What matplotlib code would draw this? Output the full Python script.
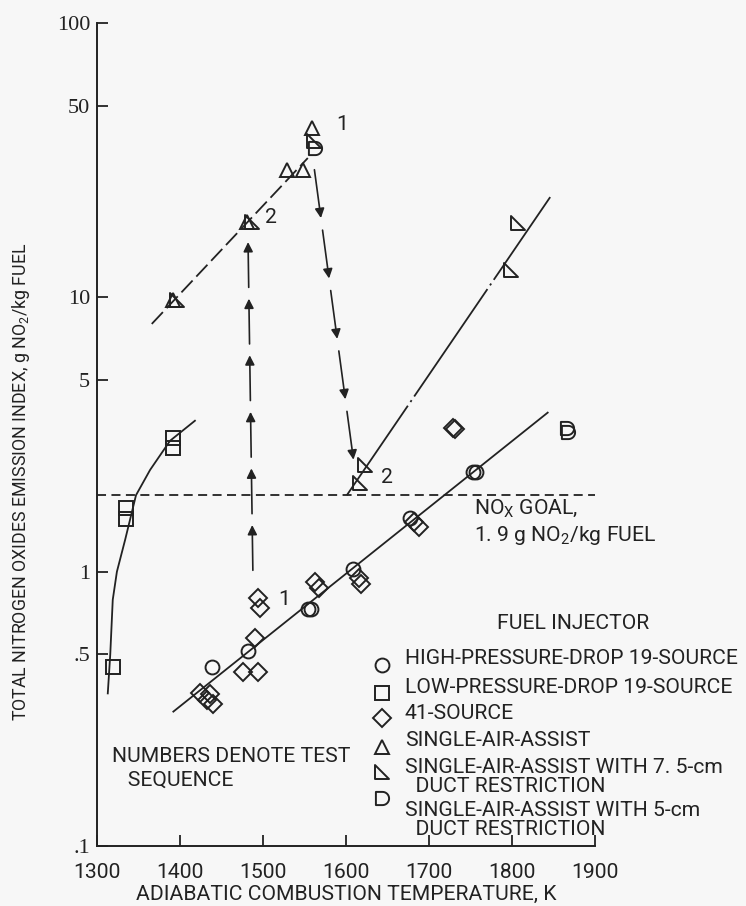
import numpy as np
import matplotlib
matplotlib.use('Agg')
import matplotlib.pyplot as plt
from matplotlib.path import Path
from matplotlib.ticker import FixedLocator, FixedFormatter

# Datos (temperatura K, indice de emision g NO2/kg)
circulo_T = [1439, 1482, 1554, 1558, 1608, 1677, 1753, 1757]
circulo_ei = [0.45, 0.515, 0.73, 0.73, 1.02, 1.57, 2.31, 2.31]

cuadrado_T = [1319, 1335, 1335, 1392, 1392]
cuadrado_ei = [0.45, 1.70, 1.56, 3.08, 2.83]

rombo_T = [1424, 1436, 1440, 1432, 1476, 1494, 1490, 1494, 1496,
           1563, 1568, 1616, 1618, 1682, 1688, 1729, 1731]
rombo_ei = [0.36, 0.357, 0.328, 0.34, 0.43, 0.43, 0.575, 0.80, 0.74,
            0.92, 0.87, 0.95, 0.90, 1.52, 1.46, 3.35, 3.30]

triangulo_T = [1391, 1481, 1529, 1548, 1559]
triangulo_ei = [9.8, 18.8, 29.1, 29.1, 41.5]

rect_T = [1397, 1487, 1561, 1617, 1623, 1799, 1807]
rect_ei = [9.8, 18.8, 37.0, 2.11, 2.45, 12.6, 18.7]

d_T = [1563, 1866, 1868]
d_ei = [35.0, 3.35, 3.22]

# Lineas de tendencia
linea_sup_T = [1366, 1554]
linea_sup_ei = [8.0, 32.2]
linea_inf_T = [1392, 1843]
linea_inf_ei = [0.309, 3.80]
linea_ducto_T = [1601, 1846]
linea_ducto_ei = [1.9, 23.2]
curva_T = [1313, 1316, 1319, 1324, 1334, 1347, 1364, 1388, 1418]
curva_ei = [0.36, 0.50, 0.79, 1.0, 1.31, 1.9, 2.35, 3.0, 3.55]

# Secuencia de ensayo (flechas)
flecha_sube_T = [1488, 1482]
flecha_sube_ei = [0.92, 15.9]
flecha_baja_T = [1560, 1609]
flecha_baja_ei = [32.3, 2.56]

meta_nox = 1.9

ticks_y = [0.1, 0.5, 1, 5, 10, 50, 100]
etiquetas_y = ['.1', '.5', '1', '5', '10', '50', '100']
ticks_x = [1300, 1400, 1500, 1600, 1700, 1800, 1900]

TINTA = '#222222'
FONDO = '#f7f7f7'
plt.rcParams['font.family'] = ['Roboto', 'DejaVu Sans']
plt.rcParams['font.stretch'] = 'condensed'
plt.rcParams['mathtext.fontset'] = 'custom'
plt.rcParams['mathtext.rm'] = 'Roboto'
plt.rcParams['mathtext.it'] = 'Roboto'
FS = 15.2


def marcador_rect():
    return Path([(-1, 1), (-1, -1), (1, -1), (-1, 1)], [Path.MOVETO, Path.LINETO, Path.LINETO, Path.CLOSEPOLY])


def marcador_d():
    ang = np.linspace(-np.pi / 2, np.pi / 2, 20)
    verts = [(-1, -1)] + [(np.cos(a), np.sin(a)) for a in ang] + [(-1, 1), (-1, -1)]
    codes = [Path.MOVETO] + [Path.LINETO] * (len(verts) - 2) + [Path.CLOSEPOLY]
    return Path(verts, codes)


estilos = [
    ('o', 10, 'HIGH-PRESSURE-DROP 19-SOURCE'),
    ('s', 9.5, 'LOW-PRESSURE-DROP 19-SOURCE'),
    ('D', 9.0, '41-SOURCE'),
    ('^', 10.5, 'SINGLE-AIR-ASSIST'),
    (marcador_rect(), 9.5, 'SINGLE-AIR-ASSIST WITH 7. 5-cm\n  DUCT RESTRICTION'),
    (marcador_d(), 9.5, 'SINGLE-AIR-ASSIST WITH 5-cm\n  DUCT RESTRICTION'),
]
series = [(circulo_T, circulo_ei), (cuadrado_T, cuadrado_ei), (rombo_T, rombo_ei),
          (triangulo_T, triangulo_ei), (rect_T, rect_ei), (d_T, d_ei)]

fig = plt.figure(figsize=(7.46, 9.06), dpi=100, facecolor=FONDO)
ax = fig.add_axes([0.130, 0.0662, 0.6676, 0.9084])
ax.set_facecolor(FONDO)
ax.set_yscale('log')
ax.set_xlim(1300, 1900)
ax.set_ylim(0.1, 100)

# lineas
ax.plot(linea_sup_T, linea_sup_ei, color=TINTA, lw=1.3, linestyle=(0, (9, 3)))
ax.plot(linea_inf_T, linea_inf_ei, color=TINTA, lw=1.3)
ax.plot(linea_ducto_T, linea_ducto_ei, color=TINTA, lw=1.3, linestyle=(12, (72, 2.5, 1.2, 2.5)))
ax.plot(curva_T, curva_ei, color=TINTA, lw=1.3)
ax.axhline(meta_nox, color=TINTA, lw=1.3, linestyle=(0, (5, 3)))

# flechas de la secuencia de ensayo
for xs, ys, n in [(flecha_sube_T, flecha_sube_ei, 6), (flecha_baja_T, flecha_baja_ei, 5)]:
    lx = np.linspace(xs[0], xs[1], n + 1)
    ly = np.logspace(np.log10(ys[0]), np.log10(ys[1]), n + 1)
    for i in range(n):
        x0 = lx[i] + 0.2 * (lx[i + 1] - lx[i])
        y0 = 10 ** (np.log10(ly[i]) + 0.2 * (np.log10(ly[i + 1]) - np.log10(ly[i])))
        ax.annotate('', xy=(lx[i + 1], ly[i + 1]), xytext=(x0, y0),
                    arrowprops=dict(arrowstyle='-|>', color=TINTA, lw=1.2,
                                    mutation_scale=14, shrinkA=0, shrinkB=0))

# puntos
for (m, ms, _), (xs, ys) in zip(estilos, series):
    ax.plot(xs, ys, linestyle='none', marker=m, ms=ms, mfc='none',
            mec=TINTA, mew=1.4)

# numeros de secuencia
ax.text(1588, 42.5, '1', fontsize=FS, color=TINTA, va='center')
ax.text(1503, 19.5, '2', fontsize=FS, color=TINTA, va='center')
ax.text(1518, 0.79, '1', fontsize=FS, color=TINTA, va='center')
ax.text(1642, 2.2, '2', fontsize=FS, color=TINTA, va='center')

ax.text(1754, 1.71, r'NO$_{\mathrm{X}}$ GOAL,', fontsize=FS, color=TINTA, va='center')
ax.text(1754, 1.36, r'1. 9 g NO$_{\mathrm{2}}$/kg FUEL', fontsize=FS, color=TINTA, va='center')

# leyenda manual
ax.text(0.956, (846 - 623) / 823, 'FUEL INJECTOR', transform=ax.transAxes,
        fontsize=FS, color=TINTA, ha='center', va='center')
filas_marca = [665, 693, 718, 747, 772, 798]
filas_texto = [658, 687, 713, 740, 777, 820]
for (m, ms, txt), ym, yt in zip(estilos, filas_marca, filas_texto):
    ax.plot([(382 - 97) / 498], [(846 - ym) / 823], transform=ax.transAxes,
            marker=m, ms=ms, mfc='none', mec=TINTA, mew=1.4, clip_on=False)
    ax.text((405 - 97) / 498, (846 - yt) / 823, txt, transform=ax.transAxes,
            fontsize=FS, color=TINTA, va='center', linespacing=1.0)

ax.text((112 - 97) / 498, (846 - 747) / 823, 'NUMBERS DENOTE TEST\n   SEQUENCE',
        transform=ax.transAxes, fontsize=FS, color=TINTA, va='top', linespacing=1.3)

# ejes
for lado in ['top', 'right']:
    ax.spines[lado].set_visible(False)
for lado in ['left', 'bottom']:
    ax.spines[lado].set_color(TINTA)
    ax.spines[lado].set_linewidth(1.4)
ax.yaxis.set_major_locator(FixedLocator(ticks_y))
ax.yaxis.set_major_formatter(FixedFormatter(etiquetas_y))
ax.yaxis.set_minor_locator(FixedLocator([]))
ax.set_xticks(ticks_x)
ax.tick_params(direction='in', length=8, width=1.3, colors=TINTA)
ax.tick_params(axis='x', labelsize=FS, pad=12)
ax.tick_params(axis='y', labelsize=16, pad=5)
for lab in ax.get_yticklabels():
    lab.set_family('Liberation Serif')

ax.set_xlabel('ADIABATIC COMBUSTION TEMPERATURE, K', fontsize=FS, color=TINTA, labelpad=2)
ax.set_ylabel(r'TOTAL NITROGEN OXIDES EMISSION INDEX, g NO$_{\mathrm{2}}$/kg FUEL',
              fontsize=12.8, color=TINTA)
ax.yaxis.set_label_coords(-0.13, (846 - 482) / 823)

fig.savefig('out.png', dpi=100, facecolor=FONDO)
